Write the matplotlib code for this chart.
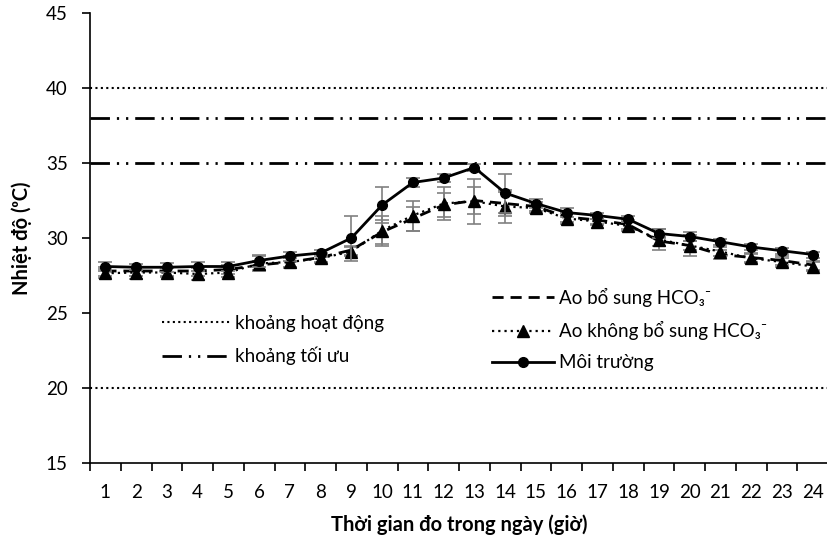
import matplotlib
matplotlib.use("Agg")
import matplotlib.pyplot as plt
from matplotlib.lines import Line2D
import numpy as np

plt.rcParams['font.family'] = ['Lato', 'DejaVu Sans']

hours = list(range(1, 25))
moi_truong = [28.1, 28.05, 28.05, 28.1, 28.1, 28.5, 28.8, 29.0, 30.0, 32.2, 33.7, 34.0,
              34.7, 33.0, 32.3, 31.7, 31.5, 31.25, 30.3, 30.1, 29.75, 29.4, 29.15, 28.9]
moi_truong_err = [0.3, 0.2, 0.3, 0.3, 0.3, 0.4, 0.3, 0.2, 1.5, 1.2, 0.3, 0.3,
                  0.2, 1.3, 0.3, 0.3, 0.2, 0.2, 0.3, 0.3, 0.2, 0.2, 0.2, 0.2]
ao_bo_sung = [27.8, 27.8, 27.8, 27.8, 27.9, 28.2, 28.4, 28.7, 29.2, 30.4, 31.3, 32.2,
              32.5, 32.3, 32.1, 31.4, 31.2, 30.9, 29.8, 29.5, 28.9, 28.7, 28.5, 28.2]
ao_bo_sung_err = [0.3, 0.3, 0.3, 0.3, 0.3, 0.3, 0.3, 0.3, 0.3, 0.8, 0.8, 0.8,
                  0.9, 0.8, 0.3, 0.3, 0.3, 0.3, 0.3, 0.3, 0.3, 0.3, 0.3, 0.3]
ao_khong_bo_sung = [27.65, 27.7, 27.7, 27.6, 27.7, 28.3, 28.4, 28.65, 29.1, 30.5, 31.5, 32.3,
                    32.45, 32.1, 32.0, 31.3, 31.1, 30.8, 29.9, 29.5, 29.1, 28.65, 28.4, 28.1]
ao_khong_bo_sung_err = [0.3, 0.4, 0.3, 0.4, 0.3, 0.5, 0.4, 0.3, 0.3, 1.0, 1.0, 1.1,
                        1.5, 1.1, 0.3, 0.4, 0.2, 0.3, 0.7, 0.7, 0.3, 0.3, 0.3, 0.3]
range_active = [20, 40]
range_optimal = [35, 38]
yticks = [15, 20, 25, 30, 35, 40, 45]

fig = plt.figure(figsize=(8.27, 5.41), dpi=100)
ax = fig.add_axes([90/827, 1-463/541, 738/827, 450/541])

dot_style = (0, (1, 1.6))
dashdotdot = (0, (7, 2.5, 0.8, 2.5, 0.8, 2.5))
for v in range_active:
    ax.axhline(v, color='black', lw=1.5, linestyle=dot_style, zorder=1)
for v in range_optimal:
    ax.axhline(v, color='black', lw=2, linestyle=dashdotdot, zorder=1)

ekw = dict(ecolor='#808080', elinewidth=1.2, capsize=5, capthick=1.2)
ax.errorbar(hours, ao_bo_sung, yerr=ao_bo_sung_err, color='black', lw=2,
            linestyle=(0, (4, 2.5)), zorder=3, **ekw)
ax.errorbar(hours, ao_khong_bo_sung, yerr=ao_khong_bo_sung_err, color='black', lw=1.6,
            linestyle=(0, (1, 1.8)), marker='^', markersize=8, zorder=4, **ekw)
ax.errorbar(hours, moi_truong, yerr=moi_truong_err, color='black', lw=2,
            linestyle='-', marker='o', markersize=7, zorder=5, **ekw)

ax.set_xlim(0.5, 24.5)
ax.set_ylim(15, 45)
ax.set_yticks(yticks)
ax.set_xticks(hours)
ax.set_xticks(np.arange(0.5, 25, 1), minor=True)
ax.tick_params(axis='x', which='major', length=0, labelsize=13.5, pad=15)
ax.tick_params(axis='x', which='minor', length=6, width=1.2, direction='out')
ax.tick_params(axis='y', length=6, width=1.2, direction='out', labelsize=13.5, pad=10)
for s in ['top', 'right']:
    ax.spines[s].set_visible(False)
for s in ['left', 'bottom']:
    ax.spines[s].set_linewidth(1.2)

ax.set_xlabel('Thời gian đo trong ngày (giờ)', fontsize=14.5, fontweight='bold', labelpad=10)
ax.set_ylabel('Nhiệt độ (ᵒC)', fontsize=14.5, fontweight='bold', labelpad=10)

h1 = [Line2D([], [], color='black', lw=1.5, linestyle=dot_style),
      Line2D([], [], color='black', lw=2, linestyle=dashdotdot)]
leg1 = fig.legend(h1, ['khoảng hoạt động', 'khoảng tối ưu'], loc='upper left',
                  bbox_to_anchor=(145/827, 1-298/541), frameon=False, fontsize=13.5,
                  handlelength=3.7, labelspacing=0.8, handletextpad=0.2)
h2 = [Line2D([], [], color='black', lw=2, linestyle=(0, (4, 2.5))),
      Line2D([], [], color='black', lw=1.6, linestyle=(0, (1, 1.8)), marker='^', markersize=8),
      Line2D([], [], color='black', lw=2, marker='o', markersize=7)]
leg2 = fig.legend(h2, ['Ao bổ sung HCO₃⁻', 'Ao không bổ sung HCO₃⁻', 'Môi trường'],
                  loc='upper left', bbox_to_anchor=(475/827, 1-271/541), frameon=False,
                  fontsize=13.5, handlelength=3.3, labelspacing=0.75, handletextpad=0.3)

fig.savefig('out.png', dpi=100)
